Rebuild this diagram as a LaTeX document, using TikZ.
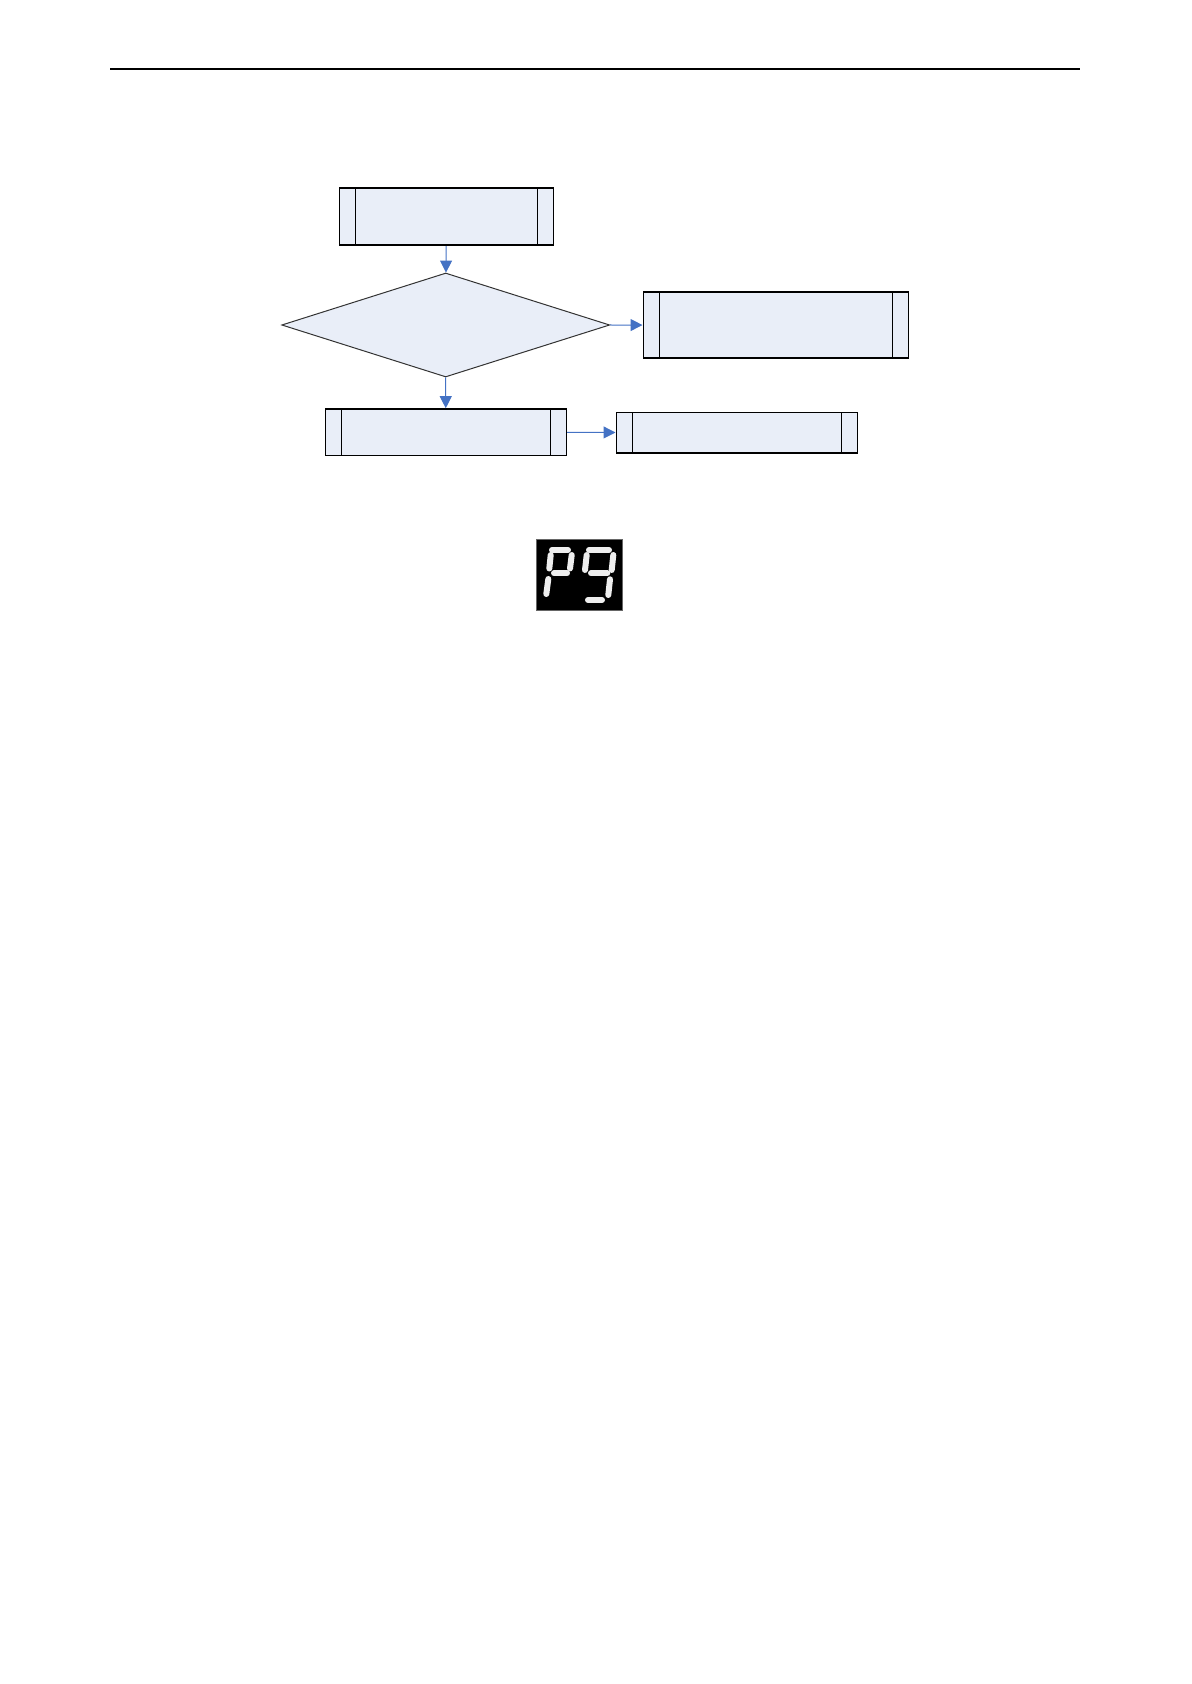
\documentclass[tikz,border=0pt]{standalone}
\usepackage{tikz}
\usetikzlibrary{shapes.geometric,arrows.meta}
\definecolor{boxfill}{RGB}{233,238,248}
\definecolor{arrowblue}{RGB}{68,114,196}
\definecolor{segwhite}{RGB}{238,238,238}

\begin{document}
\begin{tikzpicture}[x=0.5pt,y=-0.5pt,
  procbox/.style={draw=black, fill=boxfill, line width=0.8pt, inner sep=0pt,
    path picture={
      \draw[line width=0.8pt] ([xshift=8pt]path picture bounding box.north west) -- ([xshift=8pt]path picture bounding box.south west);
      \draw[line width=0.8pt] ([xshift=-8pt]path picture bounding box.north east) -- ([xshift=-8pt]path picture bounding box.south east);}},
  decision/.style={diamond, draw=black!80, fill=boxfill, line width=0.5pt, inner sep=0pt},
  flow/.style={arrowblue, line width=0.5pt, -{Triangle[length=6pt,width=6pt]}},
  seg/.style={segwhite, line width=3pt, line cap=round}]
\useasboundingbox (0,0) rectangle (1191,1684);

\draw[black, line width=1pt] (110,69) -- (1080,69);

\node[procbox, minimum width=107pt, minimum height=28.5pt] (start) at (446.3,216.8) {};
\node[decision, minimum width=164pt, minimum height=52pt] (check) at (445.7,325) {};
\node[procbox, minimum width=132.5pt, minimum height=33pt] (fault) at (775.8,325.3) {};
\node[procbox, minimum width=120.5pt, minimum height=23.2pt] (run) at (445.8,432.2) {};
\node[procbox, minimum width=120.5pt, minimum height=20.3pt] (show) at (736.8,432.7) {};

\draw[flow] (start) -- (check);
\draw[flow] (check.south) -- (run);
\draw[flow] (check.east) -- (fault);
\draw[flow] (run) -- (show);

% P9 display
\draw[fill=black, draw=black!60, line width=0.5pt] (536.7,539) rectangle (622.3,610);
\foreach \xa/\ya/\xb/\yb in {552/550/568/550, 550.7/555/549.3/568.5, 571.7/555/570/568.5,
    554/573.3/567/573.3, 548.3/579/546.3/594,
    589/550/609/550, 586.7/555/585/570, 613.3/555/611.7/570,
    591/573.3/607.3/573.3, 610/579.3/608.3/595, 588/600/602/600}
  \draw[seg] (\xa,\ya) -- (\xb,\yb);
\end{tikzpicture}
\end{document}
